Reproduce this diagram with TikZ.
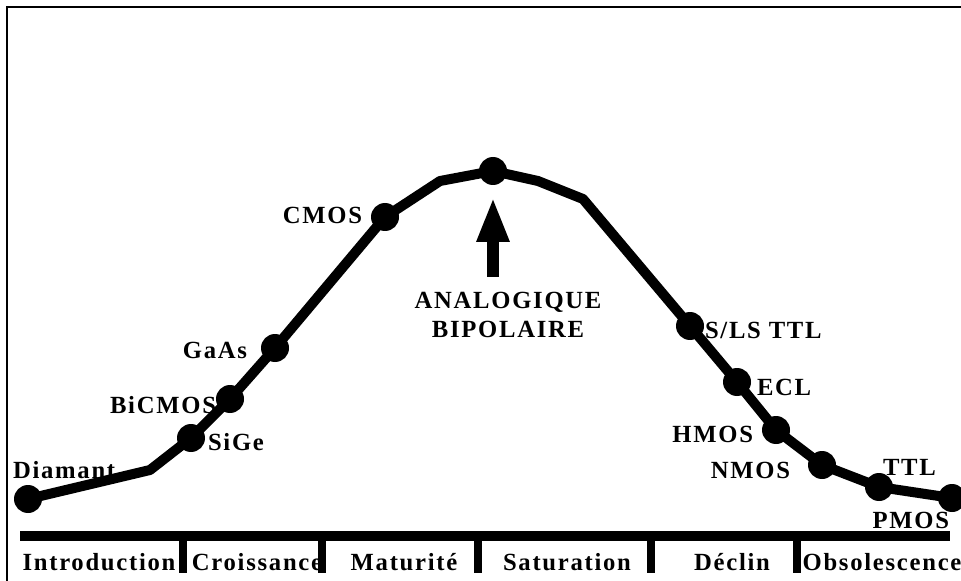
\documentclass[tikz,border=0pt]{standalone}
\usepackage{fontspec}
\newfontfamily\serifspaced{Liberation Serif}[LetterSpace=7]
\newcommand*{\labelfont}{\serifspaced\bfseries\fontsize{18.5}{21.75}\selectfont}
\usepackage{tikz}
\usetikzlibrary{arrows.meta}
\usetikzlibrary{positioning}
\tikzstyle{base}=[x=0.75pt, y=-0.75pt, inner sep=0pt, outer sep=0pt]
\tikzstyle{dot}=[circle, fill=black, minimum size=21pt]
\tikzstyle{curve}=[line width=7.5pt, line join=round]
\tikzstyle{lbl}=[font=\labelfont]
\tikzstyle{uparrow}=[line width=9pt, -{Triangle[length=33.75pt, width=22.5pt]}]

\begin{document}
\begin{tikzpicture}[base]
    \useasboundingbox (0,0) rectangle (961,581);
    % frame
        \draw [line width=2pt] (961,7) -- (7,7) -- (7,581);
    % life cycle curve
        \node [dot] (diamant) at (28,499) {};
        \coordinate (k1) at (150,470);
        \node [dot] (sige) at (191,438) {};
        \node [dot] (bicmos) at (230,399) {};
        \node [dot] (gaas) at (275,348) {};
        \node [dot] (cmos) at (385,217) {};
        \coordinate (k2) at (440,181);
        \node [dot] (peak) at (493,171) {};
        \coordinate (k3) at (538,181);
        \coordinate (k4) at (583,199);
        \node [dot] (slsttl) at (690,326) {};
        \node [dot] (ecl) at (737,382) {};
        \node [dot] (hmos) at (776,430) {};
        \node [dot] (nmos) at (822,465) {};
        \node [dot] (ttl) at (879,487) {};
        \node [dot] (pmos) at (952,498) {};
        \draw [curve] (diamant.center) -- (k1) -- (sige.center) -- (bicmos.center)
            -- (gaas.center) -- (cmos.center) -- (k2) -- (peak.center) -- (k3) -- (k4)
            -- (slsttl.center) -- (ecl.center) -- (hmos.center) -- (nmos.center)
            -- (ttl.center) -- (pmos.center);
    % technology labels
        \node [lbl, anchor=base west] at (13,478) {Diamant};
        \node [lbl, right=2.25pt of sige, yshift=-3pt] {SiGe};
        \node [lbl, left=0pt of bicmos, yshift=-4.5pt] {BiCMOS};
        \node [lbl, left=10.5pt of gaas, yshift=-1.5pt] {GaAs};
        \node [lbl, left=6.75pt of cmos, yshift=1.5pt] {CMOS};
        \node [lbl, right=0.75pt of slsttl, yshift=-3pt] {S/LS TTL};
        \node [lbl, right=4.5pt of ecl, yshift=-3.75pt] {ECL};
        \node [lbl, left=6.75pt of hmos, yshift=-3pt] {HMOS};
        \node [lbl, left=13.5pt of nmos, yshift=-3.75pt] {NMOS};
        \node [lbl, anchor=base west] at (883,475) {TTL};
        \node [lbl, anchor=base east] at (949,528) {PMOS};
    % analog bipolar
        \coordinate (foot) at (493,277);
        \draw [uparrow, shorten >=9pt] (foot) -- (peak);
        \node [lbl, align=center, anchor=north] (analog) at (508,292) {ANALOGIQUE\\BIPOLAIRE};
    % phase scale
        \draw [line width=7.5pt] (20,536) -- (950,536);
        \foreach \x in {183,322,478,651,797}
            \draw [line width=6pt] (\x,536) -- (\x,573);
        \foreach \x/\t/\n in {99/Introduction/intro, 257/Croissance/growth, 404/Maturit\'e/mature,
            567/Saturation/satur, 732/D\'eclin/decline, 882/Obsolescence/obsol}
            \node [lbl, anchor=base] (\n) at (\x,570) {\t};
\end{tikzpicture}
\end{document}
